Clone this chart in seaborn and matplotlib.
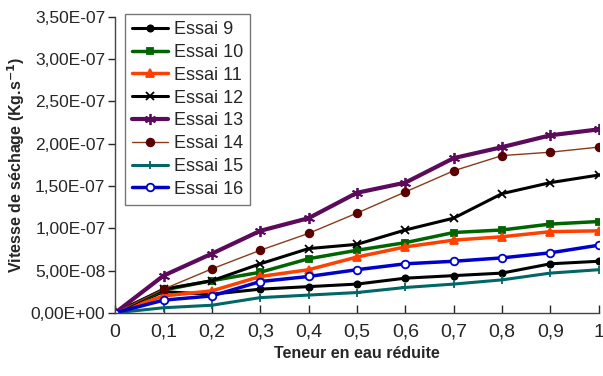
import matplotlib
matplotlib.use('Agg')
import matplotlib.pyplot as plt
import matplotlib.ticker as mticker
import seaborn as sns
import pandas as pd

# valeurs (vitesse de sechage, x 1e-7 kg/s)
teneur = [0, 0.1, 0.2, 0.3, 0.4, 0.5, 0.6, 0.7, 0.8, 0.9, 1.0]
essai9 = [0, 0.25, 0.22, 0.28, 0.31, 0.34, 0.41, 0.44, 0.47, 0.58, 0.61]
essai10 = [0, 0.27, 0.38, 0.48, 0.64, 0.74, 0.83, 0.95, 0.98, 1.05, 1.08]
essai11 = [0, 0.20, 0.26, 0.43, 0.51, 0.66, 0.78, 0.86, 0.90, 0.96, 0.97]
essai12 = [0, 0.28, 0.38, 0.58, 0.76, 0.81, 0.98, 1.12, 1.41, 1.54, 1.63]
essai13 = [0, 0.44, 0.70, 0.97, 1.12, 1.42, 1.54, 1.83, 1.96, 2.10, 2.17]
essai14 = [0, 0.28, 0.52, 0.74, 0.94, 1.18, 1.43, 1.68, 1.86, 1.90, 1.96]
essai15 = [0, 0.06, 0.09, 0.18, 0.21, 0.24, 0.30, 0.34, 0.39, 0.47, 0.51]
essai16 = [0, 0.15, 0.20, 0.37, 0.43, 0.51, 0.58, 0.61, 0.65, 0.71, 0.80]

noms = ['Essai 9', 'Essai 10', 'Essai 11', 'Essai 12',
        'Essai 13', 'Essai 14', 'Essai 15', 'Essai 16']
series = [essai9, essai10, essai11, essai12, essai13, essai14, essai15, essai16]

# style de chaque courbe : couleur, marqueur, epaisseur, taille, remplissage
styles = {
    'Essai 9':  ('black',   'o', 2.2, 4.5, 'black'),
    'Essai 10': ('#006400', 's', 2.5, 4.5, '#006400'),
    'Essai 11': ('#ff4000', '^', 2.5, 5.5, '#ff4000'),
    'Essai 12': ('black',   'x', 2.2, 6, 'black'),
    'Essai 13': ('#5c0a5c', (6, 2, 0), 3.0, 8, '#5c0a5c'),
    'Essai 14': ('#8b3a1a', 'o', 1.0, 5.5, '#5a0000'),
    'Essai 15': ('#006666', '+', 2.2, 6, '#006666'),
    'Essai 16': ('#0000cc', 'o', 2.5, 5.5, 'white'),
}

sns.set_style('white')
plt.rcParams['font.family'] = ['Liberation Sans', 'DejaVu Sans']

fig, ax = plt.subplots(figsize=(6.03, 3.76), dpi=100)
fig.subplots_adjust(left=0.191, right=0.993, bottom=0.168, top=0.955)

for nom, vals in zip(noms, series):
    df = pd.DataFrame({'x': teneur, 'y': [v * 1e-7 for v in vals]})
    c, m, lw, ms, fc = styles[nom]
    sns.lineplot(data=df, x='x', y='y', ax=ax, color=c, marker=m, lw=lw,
                 markersize=ms, markerfacecolor=fc, markeredgecolor=c if nom != 'Essai 14' else fc,
                 markeredgewidth=1.3, label=nom)

ax.set_xlim(0, 1.0)
ax.set_ylim(0, 3.5e-7)
ax.set_xticks(teneur)
ax.set_yticks([i * 0.5e-7 for i in range(8)])
ax.xaxis.set_major_formatter(mticker.FuncFormatter(
    lambda v, p: ('%g' % round(v, 1)).replace('.', ',')))
ax.yaxis.set_major_formatter(mticker.FuncFormatter(
    lambda v, p: ('%.2E' % v).replace('.', ',')))

ax.tick_params(axis='y', direction='out', length=5, width=1, labelsize=12.5, pad=2, left=True)
ax.tick_params(axis='x', direction='in', length=6, width=1, labelsize=14, pad=8, bottom=True)
for s in ['top', 'right']:
    ax.spines[s].set_visible(False)
for s in ['left', 'bottom']:
    ax.spines[s].set_color('#444444')
    ax.spines[s].set_linewidth(1)

ax.set_xlabel('Teneur en eau réduite', fontsize=11.5, fontweight='bold', labelpad=4)
ax.set_ylabel('Vitesse de séchage (Kg.s$^{\\mathbf{-1}}$)', fontsize=11.5, fontweight='bold', labelpad=3)

leg = ax.legend(loc='upper left', bbox_to_anchor=(0.02, 1.01), borderaxespad=0, fontsize=13,
                frameon=True, fancybox=False, handlelength=2.0, handletextpad=0.3,
                labelspacing=0.32, borderpad=0.4)
leg.get_frame().set_edgecolor('#555555')
leg.get_frame().set_linewidth(1)

fig.savefig('out.png', dpi=100)
